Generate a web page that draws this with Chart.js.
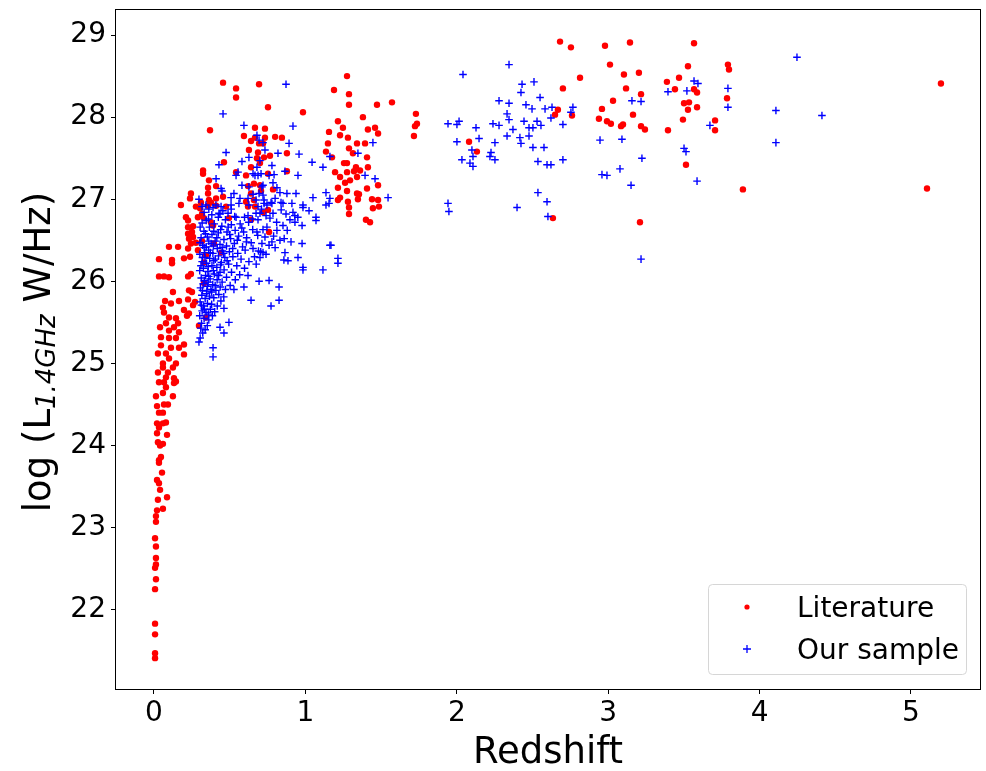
<!DOCTYPE html>
<html><head><meta charset="utf-8">
<script src="https://cdn.jsdelivr.net/npm/chart.js@4"></script>
<style>html,body{margin:0;padding:0;background:#fff;}#wrap{width:986px;height:771px;position:relative}</style>
</head><body><div id="wrap"><canvas id="c" width="986" height="771"></canvas></div>
<script>
// ---- Data: [redshift, log L1.4GHz] ----
const litTail = [[0.007,21.41],[0.007,21.47],[0.007,21.70],[0.007,21.83],[0.007,22.25],[0.013,22.37],[0.007,22.51],[0.013,22.55],[0.013,22.63],[0.013,22.77],[0.007,22.87],[0.013,23.07],[0.013,23.14],[0.020,23.21],[0.059,23.23],[0.086,23.37],[0.026,23.34],[0.040,23.46],[0.020,23.58],[0.033,23.54],[0.053,23.67],[0.033,23.79],[0.033,23.82],[0.046,23.86],[0.040,24.00],[0.026,24.04],[0.059,24.02],[0.086,24.13],[0.020,24.15],[0.033,24.22],[0.020,24.27],[0.059,24.27],[0.079,24.28],[0.059,24.40],[0.033,24.40],[0.066,24.50],[0.092,24.50],[0.020,24.48],[0.013,24.60],[0.059,24.64],[0.125,24.60],[0.079,24.71],[0.033,24.77],[0.132,24.76],[0.145,24.78],[0.066,24.77]];
const litArm = [[0.079,24.83],[0.132,24.82],[0.026,24.89],[0.059,24.95],[0.092,24.89],[0.125,24.95],[0.059,25.00],[0.099,25.06],[0.026,25.12],[0.145,25.00],[0.198,25.11],[0.079,25.12],[0.112,25.19],[0.165,25.19],[0.046,25.22],[0.198,25.23],[0.099,25.31],[0.145,25.31],[0.046,25.32],[0.099,25.40],[0.165,25.38],[0.132,25.44],[0.040,25.44],[0.079,25.49],[0.159,25.49],[0.099,25.56],[0.145,25.55],[0.218,25.58],[0.066,25.62],[0.198,25.65],[0.231,25.61],[0.059,25.68],[0.258,25.71],[0.112,25.73],[0.165,25.76],[0.073,25.76],[0.225,25.78],[0.271,25.75],[0.125,25.87],[0.231,25.89],[0.251,25.87],[0.330,25.98],[0.225,26.06],[0.033,26.06],[0.066,26.06],[0.099,26.05],[0.244,26.09],[0.033,26.27],[0.119,26.26],[0.119,26.22],[0.198,26.28],[0.238,26.30],[0.099,26.42],[0.159,26.42],[0.225,26.40],[0.244,26.46],[0.290,26.38],[0.231,26.52],[0.258,26.54],[0.225,26.58],[0.251,26.60],[0.277,26.47],[0.317,26.49],[0.330,26.23],[0.343,26.32],[0.225,26.66],[0.258,26.67],[0.225,26.74],[0.211,26.78],[0.290,26.78],[0.330,26.77],[0.317,26.82],[0.376,26.72],[0.390,26.68],[0.178,26.93],[0.277,26.91],[0.304,26.89],[0.357,26.92],[0.410,26.92],[0.476,26.91],[0.363,26.99],[0.410,27.01],[0.456,27.03],[0.495,26.77],[0.641,26.75],[0.244,27.07],[0.660,26.99],[0.608,26.97],[0.753,26.87],[0.760,26.60],[0.396,26.46],[0.443,26.35],[0.343,25.56],[0.297,25.46]];
const litLowZ = [[0.456,28.42],[0.542,28.35],[0.694,28.40],[0.542,28.24],[0.753,28.12],[0.370,27.84],[0.667,27.87],[0.733,27.86],[0.594,27.77],[0.641,27.71],[0.694,27.68],[0.627,27.60],[0.687,27.57],[0.727,27.51],[0.462,27.45],[0.324,27.35],[0.324,27.31],[0.542,27.33],[0.608,27.29],[0.641,27.39],[0.753,27.31],[0.363,27.23],[0.357,27.14],[0.410,27.16],[0.621,27.16],[0.660,27.19],[0.238,27.01],[0.357,27.07],[0.310,26.96],[0.376,26.96],[0.621,26.91],[0.720,26.84],[0.641,27.07],[0.707,27.10],[0.800,27.76],[0.845,27.75],[0.733,27.75],[0.667,27.75],[0.720,27.68],[0.766,27.53],[0.878,27.56],[0.680,27.50],[0.700,27.44],[0.878,27.34],[0.786,27.12],[0.700,27.17],[0.667,26.91]];
const litMidZ = [[0.984,28.06],[1.288,28.15],[1.473,28.15],[1.572,28.18],[1.380,28.00],[1.215,27.95],[1.156,27.82],[1.248,27.87],[1.413,27.85],[1.460,27.87],[1.229,27.78],[1.281,27.75],[1.480,27.80],[1.149,27.68],[1.341,27.68],[1.394,27.68],[1.136,27.58],[1.288,27.62],[1.314,27.56],[1.407,27.51],[1.176,27.51],[1.275,27.44],[1.255,27.44],[1.196,27.33],[1.275,27.33],[1.334,27.39],[1.361,27.35],[1.321,27.34],[1.413,27.39],[1.229,27.27],[1.341,27.27],[1.295,27.23],[1.262,27.20],[1.215,27.14],[1.275,27.10],[1.407,27.13],[1.480,27.17],[1.341,27.07],[1.229,27.02],[1.347,27.00],[1.215,26.99],[1.440,27.00],[1.480,26.99],[1.288,26.90],[1.446,26.89],[1.400,26.75],[1.427,26.72],[1.275,28.50],[1.189,28.33],[1.288,28.28],[1.281,26.97],[1.354,27.06],[1.486,26.91],[1.288,26.82],[1.730,28.04],[1.737,27.92],[1.724,27.89],[1.717,27.77]];
const litHighZ = [[2.682,28.92],[2.754,28.85],[2.979,28.87],[3.144,28.91],[3.567,28.90],[2.814,28.48],[2.701,28.35],[3.012,28.64],[3.104,28.52],[3.203,28.54],[3.118,28.35],[3.217,28.28],[3.032,28.20],[3.527,28.62],[3.468,28.48],[3.388,28.43],[3.441,28.34],[3.567,28.34],[3.587,28.30],[2.959,28.10],[2.668,28.09],[2.761,28.02],[2.649,28.03],[2.939,27.98],[2.992,27.95],[3.018,27.92],[3.164,28.03],[3.085,27.89],[3.098,27.91],[3.217,27.89],[3.243,27.85],[3.395,27.84],[3.501,28.17],[3.534,28.18],[3.527,28.09],[3.587,28.12],[3.494,27.97],[3.514,27.42],[2.081,27.70],[2.133,27.58],[2.635,26.77],[3.210,26.72],[3.791,28.64],[3.798,28.58],[3.785,28.23],[3.706,27.96],[3.706,27.84],[3.890,27.12],[5.198,28.41],[5.106,27.13]];

const ourCore = [[0.305,25.31],[0.322,25.37],[0.309,25.43],[0.338,25.41],[0.352,25.46],[0.314,25.49],[0.331,25.55],[0.302,25.58],[0.362,25.53],[0.386,25.58],[0.344,25.62],[0.318,25.64],[0.372,25.66],[0.401,25.63],[0.327,25.70],[0.353,25.73],[0.305,25.75],[0.381,25.72],[0.418,25.70],[0.442,25.76],[0.338,25.79],[0.316,25.83],[0.366,25.82],[0.395,25.80],[0.428,25.84],[0.461,25.81],[0.349,25.88],[0.376,25.90],[0.307,25.92],[0.409,25.89],[0.437,25.93],[0.472,25.90],[0.325,25.97],[0.358,25.99],[0.388,25.96],[0.450,25.99],[0.503,25.95],[0.417,26.02],[0.312,26.04],[0.341,26.07],[0.371,26.03],[0.479,26.05],[0.537,26.02],[0.398,26.09],[0.436,26.11],[0.566,26.08],[0.302,26.13],[0.326,26.16],[0.356,26.12],[0.463,26.14],[0.512,26.11],[0.383,26.19],[0.415,26.17],[0.598,26.16],[0.493,26.21],[0.547,26.19],[0.318,26.24],[0.347,26.22],[0.445,26.23],[0.368,26.28],[0.395,26.25],[0.627,26.24],[0.575,26.27],[0.426,26.31],[0.468,26.29],[0.521,26.30],[0.303,26.33],[0.335,26.35],[0.664,26.30],[0.361,26.38],[0.389,26.34],[0.452,26.37],[0.498,26.36],[0.553,26.34],[0.602,26.38],[0.418,26.40],[0.705,26.36],[0.321,26.44],[0.345,26.42],[0.377,26.46],[0.436,26.45],[0.479,26.43],[0.531,26.46],[0.585,26.42],[0.642,26.47],[0.404,26.49],[0.462,26.51],[0.311,26.53],[0.352,26.54],[0.506,26.52],[0.559,26.55],[0.612,26.53],[0.685,26.56],[0.383,26.57],[0.425,26.59],[0.330,26.61],[0.482,26.60],[0.536,26.62],[0.592,26.60],[0.652,26.63],[0.366,26.66],[0.448,26.67],[0.398,26.70],[0.511,26.69],[0.318,26.71],[0.569,26.70],[0.625,26.72],[0.345,26.74],[0.472,26.75],[0.425,26.78],[0.382,26.81],[0.533,26.79],[0.598,26.78],[0.331,26.84],[0.455,26.86],[0.362,26.88],[0.510,26.88],[0.409,26.93]];
const ourCoreDense = [[0.333,25.66],[0.359,25.60],[0.313,25.71],[0.347,25.85],[0.381,25.87],[0.320,25.89],[0.404,25.95],[0.333,26.01],[0.362,26.06],[0.392,26.13],[0.427,26.07],[0.310,26.19],[0.337,26.29],[0.358,26.18],[0.405,26.27],[0.440,26.20],[0.483,26.25],[0.372,26.35],[0.331,26.41],[0.392,26.43],[0.450,26.41],[0.362,26.49],[0.415,26.53],[0.340,26.58],[0.440,26.63],[0.395,26.61],[0.490,26.66],[0.360,26.76],[0.390,26.90],[0.436,26.82],[0.320,26.29],[0.304,26.47],[0.305,26.66],[0.353,25.94],[0.460,26.34],[0.520,26.40],[0.500,26.57],[0.550,26.50],[0.610,26.48],[0.580,26.65],[0.740,26.33],[0.760,26.44],[0.790,26.55],[0.860,26.52],[0.720,26.63],[0.880,26.62],[0.810,26.72],[0.950,26.78],[0.710,26.88],[0.840,26.87],[0.930,26.80],[0.675,26.21],[0.690,26.37],[0.650,26.76]];
const ourEdge = [[0.297,25.26],[0.390,25.19],[0.390,25.08],[0.436,25.44],[0.462,25.37],[0.495,25.50],[0.462,25.67],[0.641,25.77],[0.773,25.70],[0.826,25.77],[0.826,25.93],[0.694,26.00],[0.760,26.01],[0.594,25.93],[0.528,25.90],[0.621,26.07],[0.984,26.17],[0.984,26.14],[1.116,26.14],[1.215,26.22],[0.885,26.25],[0.858,26.26],[1.169,26.44],[1.070,26.78]];
const ourUpper = [[0.872,28.40],[1.546,27.02],[0.918,27.89],[0.892,27.68],[0.819,27.56],[0.958,27.55],[1.044,27.45],[1.116,27.39],[1.162,27.52],[1.446,27.69],[1.347,27.56],[1.394,27.29],[1.460,27.25],[1.136,27.08],[1.050,27.02],[1.162,27.01],[1.024,26.86],[1.070,26.74],[1.162,26.44],[1.215,26.28],[0.951,26.29],[0.978,26.46],[0.905,26.48],[0.865,27.34],[0.951,27.29],[0.878,27.07],[0.832,27.08],[0.812,27.14],[0.911,26.95],[0.852,26.95],[0.773,26.96],[0.918,26.84],[0.984,26.90],[0.872,26.82],[0.898,26.75],[0.978,26.68],[0.931,26.72],[0.852,26.68],[0.812,26.62],[0.680,27.78],[0.720,27.69],[0.733,27.60],[0.700,27.47],[0.680,27.39],[0.687,27.29],[0.786,27.20],[0.720,27.17],[0.800,27.01],[0.746,26.93],[0.700,26.83],[0.766,26.77],[0.687,26.75],[0.746,26.66],[0.680,26.60],[0.733,26.54],[0.779,26.48],[0.832,26.50],[0.713,26.46],[0.654,26.40],[0.720,26.35],[0.800,26.41],[0.865,26.35],[0.700,26.29],[0.456,28.04],[0.594,27.90],[0.476,27.57],[0.581,27.46],[0.627,27.51],[0.429,27.42],[0.542,27.29],[0.654,27.31],[0.707,27.31],[0.793,27.30],[0.779,27.41],[0.555,27.33],[0.410,27.25],[0.443,27.13],[0.581,27.17],[0.528,27.07],[0.627,27.15],[0.694,27.07],[0.938,27.07],[0.779,26.95],[0.839,26.96],[1.156,26.95],[0.317,26.91],[0.343,26.93],[0.509,27.02],[0.568,27.01],[0.621,27.01],[0.720,27.05],[0.627,26.93],[0.687,26.91],[0.727,26.95],[0.694,27.72],[0.667,27.29],[0.760,27.29],[0.449,27.10],[0.654,27.06],[0.713,27.15],[0.297,27.00],[0.443,26.91],[0.509,26.93],[0.561,26.95],[0.674,26.99],[0.727,26.99],[0.429,26.83],[0.489,26.83],[0.542,26.78],[0.621,26.80],[0.674,26.83],[0.740,26.80],[0.786,26.83],[0.984,26.93],[1.136,26.93]];
const ourHighZ = [[4.247,28.73],[3.567,28.44],[3.593,28.41],[3.791,28.35],[3.791,28.12],[4.108,28.08],[4.412,28.02],[3.672,27.90],[4.108,27.69],[3.587,27.22],[2.345,28.64],[2.041,28.52],[2.431,28.40],[2.424,28.30],[2.510,28.43],[2.550,28.24],[2.279,28.20],[2.345,28.17],[2.457,28.15],[2.497,28.10],[2.583,28.10],[2.629,28.12],[2.767,28.12],[2.754,28.06],[2.332,28.04],[2.345,27.97],[2.444,27.95],[2.530,27.95],[2.622,27.99],[2.556,27.90],[2.503,27.87],[2.477,27.87],[2.239,27.92],[2.279,27.90],[2.371,27.85],[2.701,27.91],[1.942,27.92],[2.001,27.91],[2.015,27.95],[2.127,27.87],[2.332,27.77],[2.417,27.75],[2.477,27.77],[2.147,27.74],[2.001,27.70],[2.252,27.69],[2.424,27.68],[2.503,27.63],[2.576,27.63],[2.100,27.60],[2.107,27.52],[2.226,27.57],[2.219,27.52],[2.252,27.48],[2.034,27.48],[2.087,27.44],[2.107,27.40],[2.536,27.46],[2.596,27.42],[2.622,27.42],[2.701,27.48],[2.946,27.72],[3.091,27.73],[3.223,27.50],[2.959,27.30],[2.992,27.29],[3.078,27.37],[3.151,27.17],[3.217,28.19],[3.157,28.20],[3.395,28.31],[3.520,28.32],[3.501,27.62],[3.514,27.58],[1.942,26.95],[1.948,26.85],[2.536,27.08],[2.596,26.97],[2.602,26.79],[2.398,26.90],[3.217,26.27]];

const xTicks = [0, 1, 2, 3, 4, 5];
const yTicks = [22, 23, 24, 25, 26, 27, 28, 29];
const seriesNames = ['Literature', 'Our sample'];
const xTitle = 'Redshift';
const yTitleParts = ['log (L', '1.4GHz', ' W/Hz)'];

const toXY = arr => arr.map(p => ({x: p[0], y: p[1]}));
const litData = toXY([].concat(litTail, litArm, litLowZ, litMidZ, litHighZ));
const ourData = toXY([].concat(ourCore, ourCoreDense, ourEdge, ourUpper, ourHighZ));

const FONT = '"DejaVu Sans", "Liberation Sans", sans-serif';

const framePlugin = {
  id: 'frame',
  afterDraw(chart) {
    const {ctx, chartArea: a} = chart;
    ctx.save();
    ctx.strokeStyle = '#000';
    ctx.lineWidth = 1;
    ctx.strokeRect(a.left - 0.5, a.top - 0.5, a.right - a.left + 1, a.bottom - a.top + 1);
    ctx.restore();
  }
};

const titlesPlugin = {
  id: 'titles',
  afterDraw(chart) {
    const {ctx, chartArea: a} = chart;
    ctx.save();
    ctx.fillStyle = '#000';
    ctx.font = '37px ' + FONT;
    ctx.textAlign = 'center';
    ctx.textBaseline = 'alphabetic';
    ctx.fillText(xTitle, (a.left + a.right) / 2, 763);
    ctx.translate(50, 352);
    ctx.rotate(-Math.PI / 2);
    ctx.textAlign = 'left';
    const mainFont = '37px ' + FONT, subFont = 'italic 26px ' + FONT;
    ctx.font = mainFont; const w1 = ctx.measureText(yTitleParts[0]).width;
    ctx.font = subFont; const w2 = ctx.measureText(yTitleParts[1]).width;
    ctx.font = mainFont; const w3 = ctx.measureText(yTitleParts[2]).width;
    let x0 = -(w1 + w2 + w3) / 2;
    ctx.font = mainFont; ctx.fillText(yTitleParts[0], x0, 0);
    ctx.font = subFont; ctx.fillText(yTitleParts[1], x0 + w1, 5);
    ctx.font = mainFont; ctx.fillText(yTitleParts[2], x0 + w1 + w2, 0);
    ctx.restore();
  }
};

const legendPlugin = {
  id: 'customLegend',
  afterDraw(chart) {
    const {ctx} = chart;
    ctx.save();
    const bx = 708.5, by = 584.5, bw = 258, bh = 90, r = 4;
    ctx.beginPath();
    ctx.moveTo(bx + r, by);
    ctx.arcTo(bx + bw, by, bx + bw, by + bh, r);
    ctx.arcTo(bx + bw, by + bh, bx, by + bh, r);
    ctx.arcTo(bx, by + bh, bx, by, r);
    ctx.arcTo(bx, by, bx + bw, by, r);
    ctx.closePath();
    ctx.fillStyle = 'rgba(255,255,255,0.8)';
    ctx.fill();
    ctx.strokeStyle = '#d6d6d6';
    ctx.lineWidth = 1;
    ctx.stroke();
    ctx.fillStyle = '#ff0000';
    ctx.beginPath(); ctx.arc(747, 607, 2.6, 0, Math.PI * 2); ctx.fill();
    ctx.strokeStyle = '#0000ff'; ctx.lineWidth = 1.3;
    ctx.beginPath(); ctx.moveTo(743, 649); ctx.lineTo(751, 649); ctx.moveTo(747, 645); ctx.lineTo(747, 653); ctx.stroke();
    ctx.fillStyle = '#000';
    ctx.font = '28px ' + FONT;
    ctx.textAlign = 'left';
    ctx.textBaseline = 'alphabetic';
    ctx.fillText(seriesNames[0], 797, 617);
    ctx.fillText(seriesNames[1], 797, 659);
    ctx.restore();
  }
};

const tickFont = {family: FONT, size: 28};

new Chart(document.getElementById('c'), {
  type: 'scatter',
  data: {
    datasets: [
      {label: seriesNames[0], data: litData, order: 1, pointStyle: 'circle', pointRadius: 3.2, pointHoverRadius: 3.2,
       backgroundColor: '#ff0000', borderColor: '#ff0000', borderWidth: 0},
      {label: seriesNames[1], data: ourData, order: 0, pointStyle: 'cross', pointRadius: 3.8, pointHoverRadius: 3.8,
       backgroundColor: '#0000ff', borderColor: '#0000ff', borderWidth: 1.4}
    ]
  },
  options: {
    responsive: false,
    animation: false,
    devicePixelRatio: 1,
    events: [],
    layout: {padding: {top: 10, right: 6, left: 0, bottom: 0}},
    plugins: {legend: {display: false}, tooltip: {enabled: false}},
    scales: {
      x: {
        type: 'linear', min: -0.251, max: 5.456,
        afterBuildTicks: s => { s.ticks = xTicks.map(v => ({value: v})); },
        afterFit: s => { s.height = 82; s.paddingLeft = 0; s.paddingRight = 0; },
        grid: {drawOnChartArea: false, drawTicks: true, tickLength: 5, tickColor: '#000', tickWidth: 1},
        border: {display: false},
        ticks: {font: tickFont, color: '#000', padding: 3, maxRotation: 0, autoSkip: false}
      },
      y: {
        type: 'linear', min: 21.034, max: 29.305,
        afterBuildTicks: s => { s.ticks = yTicks.map(v => ({value: v})); },
        afterFit: s => { s.width = 116; s.paddingTop = 0; s.paddingBottom = 0; },
        grid: {drawOnChartArea: false, drawTicks: true, tickLength: 5, tickColor: '#000', tickWidth: 1},
        border: {display: false},
        ticks: {font: tickFont, color: '#000', padding: 5, autoSkip: false}
      }
    }
  },
  plugins: [framePlugin, titlesPlugin, legendPlugin]
});
</script></body></html>
